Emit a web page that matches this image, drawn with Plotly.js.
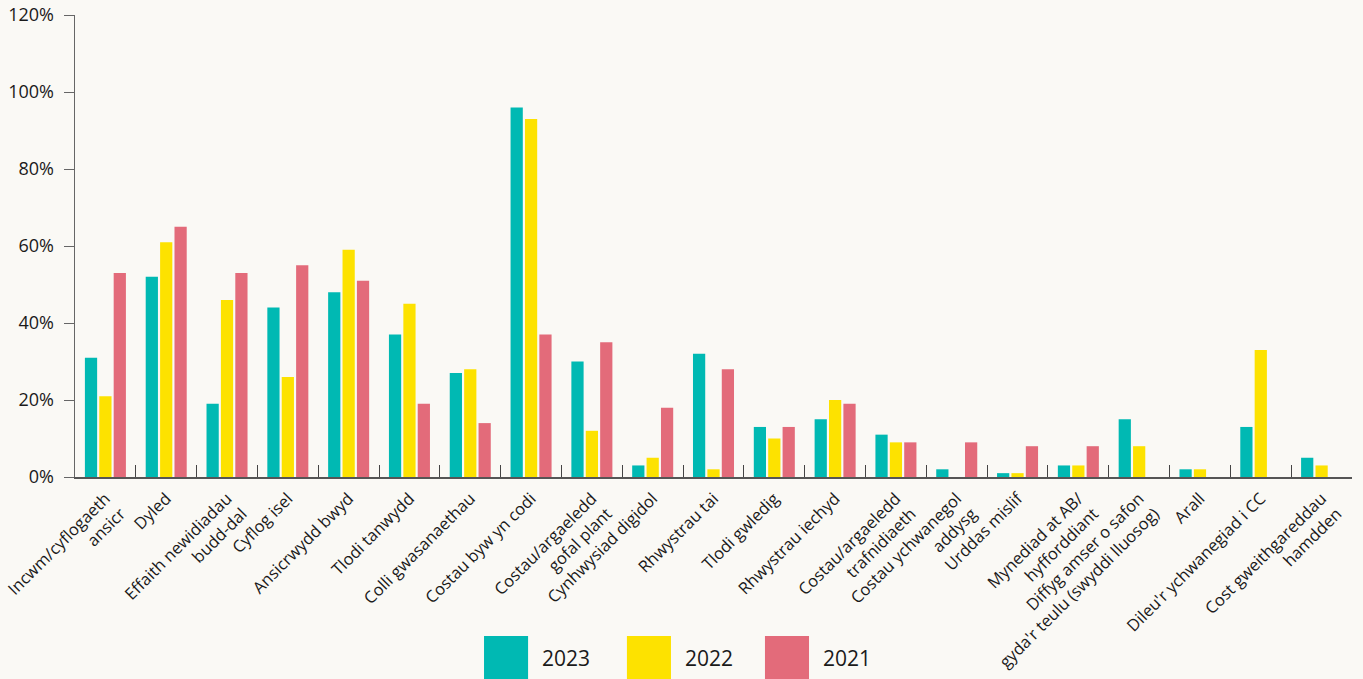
<!DOCTYPE html>
<html>
<head>
<meta charset="utf-8">
<script src="https://cdn.plot.ly/plotly-3.0.1.min.js"></script>
<style>
html,body{margin:0;padding:0;background:#FAF9F5;}
#chart{width:1363px;height:679px;}
</style>
</head>
<body>
<div id="chart"></div>
<script>
const categories = [
  "Incwm/cyflogaeth<br>ansicr",
  "Dyled",
  "Effaith newidiadau<br>budd-dal",
  "Cyflog isel",
  "Ansicrwydd bwyd",
  "Tlodi tanwydd",
  "Colli gwasanaethau",
  "Costau byw yn codi",
  "Costau/argaeledd<br>gofal plant",
  "Cynhwysiad digidol",
  "Rhwystrau tai",
  "Tlodi gwledig",
  "Rhwystrau iechyd",
  "Costau/argaeledd<br>trafnidiaeth",
  "Costau ychwanegol<br>addysg",
  "Urddas mislif",
  "Mynediad at AB/<br>hyfforddiant",
  "Diffyg amser o safon<br>gyda'r teulu (swyddi lluosog)",
  "Arall",
  "Dileu'r ychwanegiad i CC",
  "Cost gweithgareddau<br>hamdden"
];
const values2023 = [31, 52, 19, 44, 48, 37, 27, 96, 30, 3, 32, 13, 15, 11, 2, 1, 3, 15, 2, 13, 5];
const values2022 = [21, 61, 46, 26, 59, 45, 28, 93, 12, 5, 2, 10, 20, 9, 0, 1, 3, 8, 2, 33, 3];
const values2021 = [53, 65, 53, 55, 51, 19, 14, 37, 35, 18, 28, 13, 19, 9, 9, 8, 8, null, null, null, null];
const seriesNames = ["2023", "2022", "2021"];
const colors = ["#00B9B3", "#FDE200", "#E36B7A"];

const font = "'Open Sans', sans-serif";
const allValues = [values2023, values2022, values2021];
const traces = allValues.map((v, i) => ({
  type: "bar",
  name: seriesNames[i],
  x: categories,
  y: v,
  marker: {color: colors[i]},
  hoverinfo: "x+y"
}));

// custom legend (large squares) drawn as paper shapes + text annotations
const legendX = [0.3203, 0.4322, 0.5403];
const shapes = [];
const annotations = [];
seriesNames.forEach((n, i) => {
  shapes.push({type: "rect", xref: "paper", yref: "paper",
    x0: legendX[i], x1: legendX[i] + 0.0345, y0: -0.344, y1: -0.44,
    fillcolor: colors[i], line: {width: 0}});
  annotations.push({xref: "paper", yref: "paper", x: legendX[i] + 0.0345 + 0.0095, y: -0.391,
    text: n, showarrow: false, xanchor: "left", yanchor: "middle",
    font: {family: font, size: 21, color: "#1a1a1a"}});
});

const layout = {
  width: 1363, height: 679,
  paper_bgcolor: "#FAF9F5", plot_bgcolor: "#FAF9F5",
  margin: {l: 75, r: 11, t: 15, b: 202},
  barmode: "group",
  bargap: 0.29,
  bargroupgap: 0.15,
  showlegend: false,
  font: {family: font, color: "#1a1a1a"},
  xaxis: {
    type: "category",
    tickangle: -45,
    tickson: "boundaries",
    ticks: "inside",
    ticklen: 12,
    tickcolor: "#444",
    showline: true,
    linecolor: "#555",
    linewidth: 1.5,
    showgrid: false,
    ticklabelstandoff: 4,
    tickfont: {family: font, size: 16.5, color: "#1a1a1a"},
    fixedrange: true
  },
  yaxis: {
    range: [0, 120],
    dtick: 20,
    ticksuffix: "%",
    ticks: "outside",
    ticklen: 10,
    tickcolor: "#666",
    showline: true,
    linecolor: "#666",
    linewidth: 1.5,
    showgrid: false,
    zeroline: false,
    ticklabelstandoff: 6,
    tickfont: {family: font, size: 18, color: "#1a1a1a"},
    fixedrange: true
  },
  shapes: shapes,
  annotations: annotations
};

Plotly.newPlot("chart", traces, layout, {displayModeBar: false, staticPlot: true});
</script>
</body>
</html>
